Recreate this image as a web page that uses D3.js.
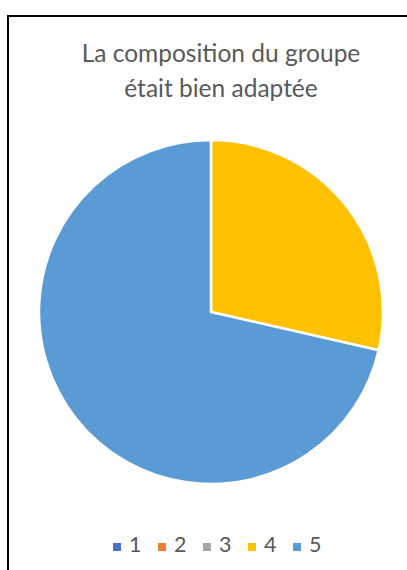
<!DOCTYPE html>
<html><head><meta charset="utf-8">
<script src="https://cdn.jsdelivr.net/npm/d3@7"></script>
<style>html,body{margin:0;padding:0;background:#fff;}svg{display:block;}</style>
</head><body>
<svg id="c" width="407" height="570"></svg>
<script>
const categories = ["1","2","3","4","5"];
const values = [0,0,0,2,5];
const colors = ["#4472C4","#ED7D31","#A5A5A5","#FFC000","#5B9BD5"];
const titleLines = ["La composition du groupe","était bien adaptée"];

const svg = d3.select("#c");
svg.append("rect").attr("x",8).attr("y",16).attr("width",440).attr("height",600)
  .attr("fill","#fff").attr("stroke","#000").attr("stroke-width",2);

const font = "Lato, 'Open Sans', sans-serif";
svg.selectAll("text.title").data(titleLines).enter().append("text")
  .attr("class","title").attr("x",221).attr("y",(d,i)=>62+i*35)
  .attr("text-anchor","middle").attr("fill","#595959")
  .style("font-family",font).style("font-size","24.5px").text(d=>d);

const cx=211, cy=312, r=172;
const pie = d3.pie().sort(null).value(d=>d.v);
const data = categories.map((c,i)=>({c, v: values[i], col: colors[i]}));
const arc = d3.arc().innerRadius(0).outerRadius(r);
svg.append("g").attr("transform",`translate(${cx},${cy})`)
  .selectAll("path").data(pie(data).filter(d=>d.data.v>0)).enter().append("path")
  .attr("d",arc).attr("fill",d=>d.data.col).attr("stroke","#fff").attr("stroke-width",2.5)
  .attr("stroke-linejoin","round");

const lx = d3.scalePoint().domain(categories).range([113,293]);
const lg = svg.append("g").selectAll("g").data(data).enter().append("g")
  .attr("transform",d=>`translate(${lx(d.c)},0)`);
lg.append("rect").attr("x",0).attr("y",543).attr("width",8).attr("height",8).attr("fill",d=>d.col);
lg.append("text").attr("x",16).attr("y",552).attr("fill","#595959")
  .style("font-family",font).style("font-size","21.5px").text(d=>d.c);
</script>
</body></html>
